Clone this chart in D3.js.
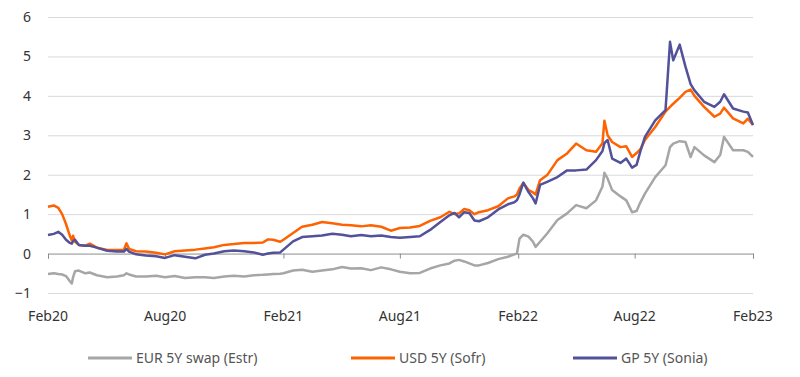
<!DOCTYPE html>
<html>
<head>
<meta charset="utf-8">
<script src="https://cdn.jsdelivr.net/npm/d3@7"></script>
<style>
  body { margin: 0; background: #fff; }
  text { font-family: "Noto Sans", sans-serif; }
</style>
</head>
<body>
<div id="chart"></div>
<script>
// ---------------- data
const dates = [
  "2020-02-01","2020-02-10","2020-02-17","2020-02-23","2020-02-29","2020-03-06","2020-03-09","2020-03-11",
  "2020-03-14","2020-03-20","2020-03-30","2020-04-06","2020-04-17","2020-05-03","2020-05-18","2020-05-29",
  "2020-06-02","2020-06-06","2020-06-17","2020-07-02","2020-07-18","2020-08-01","2020-08-16","2020-09-01",
  "2020-09-17","2020-10-02","2020-10-16","2020-11-01","2020-11-16","2020-12-02","2020-12-17","2020-12-31",
  "2021-01-08","2021-01-16","2021-01-27","2021-02-01","2021-02-16","2021-03-02","2021-03-18","2021-04-02",
  "2021-04-18","2021-05-03","2021-05-17","2021-06-02","2021-06-17","2021-07-03","2021-07-18","2021-08-01",
  "2021-08-17","2021-09-01","2021-09-17","2021-10-03","2021-10-17","2021-10-25","2021-11-01","2021-11-09",
  "2021-11-17","2021-11-25","2021-12-02","2021-12-16","2022-01-01","2022-01-16","2022-01-26","2022-01-30",
  "2022-02-03","2022-02-09","2022-02-17","2022-02-24","2022-02-28","2022-03-07","2022-03-18","2022-04-03",
  "2022-04-18","2022-05-02","2022-05-18","2022-06-02","2022-06-12","2022-06-15","2022-06-20","2022-06-27",
  "2022-07-10","2022-07-19","2022-07-28","2022-08-04","2022-08-10","2022-08-17","2022-09-02","2022-09-18",
  "2022-09-25","2022-09-30","2022-10-10","2022-10-19","2022-10-27","2022-11-02","2022-11-17","2022-12-03",
  "2022-12-12","2022-12-18","2023-01-01","2023-01-17","2023-01-24","2023-02-01"
]

const eurValues = [
  -0.52,-0.50,-0.52,-0.53,-0.57,-0.70,-0.76,-0.60,
  -0.45,-0.43,-0.50,-0.48,-0.55,-0.60,-0.58,-0.55,
  -0.50,-0.53,-0.58,-0.58,-0.56,-0.60,-0.57,-0.62,
  -0.60,-0.60,-0.62,-0.58,-0.56,-0.58,-0.55,-0.54,
  -0.53,-0.52,-0.51,-0.50,-0.43,-0.41,-0.46,-0.43,
  -0.40,-0.34,-0.38,-0.37,-0.42,-0.35,-0.40,-0.46,
  -0.50,-0.49,-0.38,-0.30,-0.25,-0.18,-0.16,-0.20,
  -0.25,-0.30,-0.30,-0.24,-0.14,-0.08,-0.02,0.00,
  0.38,0.48,0.43,0.30,0.17,0.30,0.51,0.85,
  1.02,1.23,1.15,1.35,1.70,2.05,1.90,1.61,
  1.45,1.35,1.05,1.08,1.30,1.52,1.94,2.24,
  2.70,2.79,2.85,2.83,2.45,2.70,2.49,2.32,
  2.50,2.96,2.62,2.62,2.58,2.45
]

const usdValues = [
  1.19,1.22,1.16,1.00,0.75,0.45,0.33,0.45,
  0.30,0.22,0.20,0.25,0.15,0.09,0.09,0.10,
  0.26,0.12,0.06,0.05,0.02,-0.02,0.06,0.08,
  0.10,0.13,0.16,0.22,0.24,0.27,0.27,0.28,
  0.36,0.35,0.30,0.35,0.52,0.68,0.73,0.80,
  0.77,0.73,0.72,0.69,0.72,0.68,0.58,0.65,
  0.66,0.70,0.83,0.92,1.06,1.00,1.02,1.13,
  1.10,1.00,1.05,1.10,1.20,1.40,1.45,1.50,
  1.65,1.79,1.61,1.55,1.50,1.86,1.99,2.37,
  2.54,2.79,2.62,2.58,2.80,3.37,3.00,2.83,
  2.70,2.72,2.45,2.55,2.65,2.88,3.21,3.60,
  3.72,3.80,3.95,4.10,4.16,4.00,3.72,3.47,
  3.55,3.70,3.43,3.30,3.42,3.26
]

const gbpValues = [
  0.47,0.50,0.55,0.48,0.35,0.27,0.25,0.32,
  0.35,0.22,0.20,0.20,0.15,0.07,0.05,0.05,
  0.12,0.05,-0.02,-0.05,-0.07,-0.11,-0.04,-0.08,
  -0.12,-0.03,0.00,0.06,0.08,0.06,0.03,-0.03,
  0.00,0.02,0.03,0.10,0.31,0.42,0.44,0.46,
  0.50,0.48,0.44,0.47,0.44,0.46,0.42,0.40,
  0.42,0.44,0.60,0.80,0.97,1.03,0.92,1.05,
  1.03,0.84,0.82,0.92,1.12,1.25,1.30,1.35,
  1.50,1.80,1.56,1.40,1.27,1.74,1.82,1.94,
  2.11,2.11,2.13,2.37,2.60,2.80,2.88,2.41,
  2.30,2.41,2.18,2.25,2.60,2.96,3.38,3.64,
  5.37,4.90,5.30,4.74,4.30,4.14,3.85,3.72,
  3.85,4.04,3.68,3.60,3.58,3.26
]

const seriesNames = ["EUR 5Y swap (Estr)", "USD 5Y (Sofr)", "GP 5Y (Sonia)"]
const seriesColors = ["#a6a6a6", "#ff6200", "#525199"]
const yTicks = [-1, 0, 1, 2, 3, 4, 5, 6]
const xTickLabels = ["Feb20", "Aug20", "Feb21", "Aug21", "Feb22", "Aug22", "Feb23"]

// ---------------- dimensions
const dims = {
  width: 800,
  height: 377,
  margin: { top: 17, right: 47, bottom: 84, left: 48 }
}
dims.boundedWidth = dims.width - dims.margin.left - dims.margin.right
dims.boundedHeight = dims.height - dims.margin.top - dims.margin.bottom

const parseDate = d3.timeParse("%Y-%m-%d")
const parseTick = d3.timeParse("%b%y")

const series = [eurValues, usdValues, gbpValues].map((vals, i) => ({
  name: seriesNames[i],
  color: seriesColors[i],
  points: vals.map((v, j) => ({ date: parseDate(dates[j]), value: v }))
}))

const svg = d3.select("#chart")
  .append("svg")
  .attr("width", dims.width)
  .attr("height", dims.height)

const bounds = svg.append("g")
  .attr("transform", `translate(${dims.margin.left},${dims.margin.top})`)

// ---------------- scales
const xScale = d3.scaleTime()
  .domain([parseDate("2020-02-01"), parseDate("2023-02-01")])
  .range([0, dims.boundedWidth])

const yScale = d3.scaleLinear()
  .domain([-1, 6])
  .range([dims.boundedHeight, 0])

// ---------------- grid + y labels
const yAxis = d3.axisLeft(yScale)
  .tickValues(yTicks)
  .tickSize(-dims.boundedWidth)
  .tickPadding(17)
  .tickFormat(d3.format("d"))

const yAxisGroup = bounds.append("g").call(yAxis)
yAxisGroup.select(".domain").remove()
yAxisGroup.selectAll(".tick line")
  .attr("stroke", "#d9d9d9")
  .attr("stroke-width", 1)
  .attr("stroke", d => d === 0 ? "none" : "#d9d9d9")
yAxisGroup.selectAll(".tick text")
  .attr("font-size", 14)
  .attr("fill", "#333")

// ---------------- x axis on the zero line
const xAxis = d3.axisBottom(xScale)
  .tickValues(xTickLabels.map(parseTick))
  .tickSize(5)
  .tickFormat("")

const xAxisGroup = bounds.append("g")
  .attr("transform", `translate(0,${yScale(0)})`)
  .call(xAxis)
xAxisGroup.select(".domain").attr("stroke", "#8c8c8c").attr("stroke-width", 1)
xAxisGroup.selectAll(".tick line").attr("stroke", "#8c8c8c")

// x labels at the bottom
bounds.append("g")
  .selectAll("text")
  .data(xTickLabels)
  .join("text")
  .attr("x", d => xScale(parseTick(d)))
  .attr("y", dims.boundedHeight + 28)
  .attr("text-anchor", "middle")
  .attr("font-size", 14)
  .attr("fill", "#333")
  .text(d => d)

// ---------------- lines
const lineGen = d3.line()
  .x(d => xScale(d.date))
  .y(d => yScale(d.value))

bounds.append("g")
  .selectAll("path")
  .data(series)
  .join("path")
  .attr("d", d => lineGen(d.points))
  .attr("fill", "none")
  .attr("stroke", d => d.color)
  .attr("stroke-width", 2.5)
  .attr("stroke-linejoin", "round")

// ---------------- legend
const legendX = [88, 351, 573]
const legend = svg.append("g")
  .attr("transform", "translate(0,358)")

const legendItems = legend.selectAll("g")
  .data(series)
  .join("g")
  .attr("transform", (d, i) => `translate(${legendX[i]},0)`)

legendItems.append("line")
  .attr("x1", 0)
  .attr("x2", 44)
  .attr("stroke", d => d.color)
  .attr("stroke-width", 3)

legendItems.append("text")
  .attr("x", 48)
  .attr("dy", "0.35em")
  .attr("font-size", 14)
  .attr("fill", "#555")
  .text(d => d.name)
</script>
</body>
</html>
